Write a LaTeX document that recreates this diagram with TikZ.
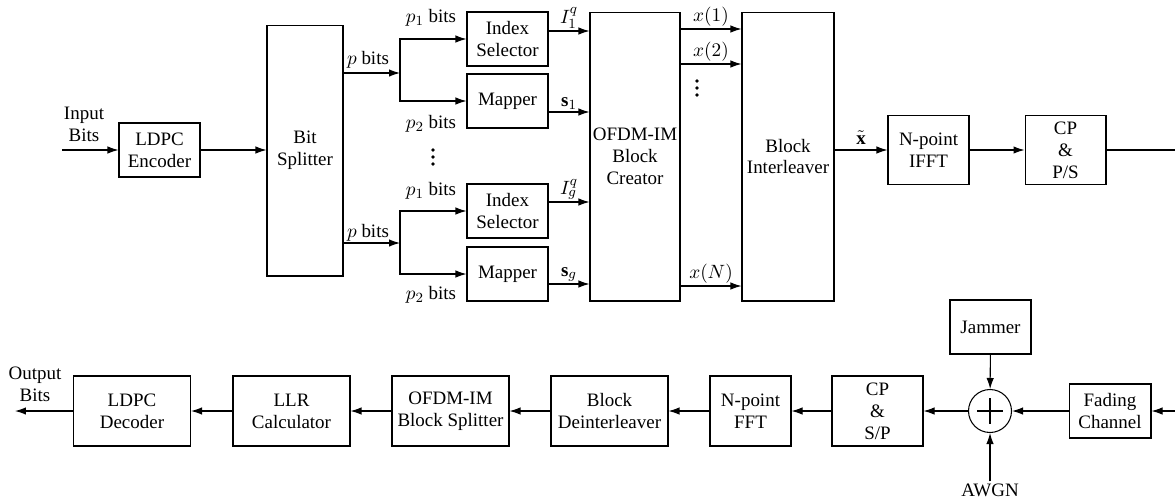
\documentclass[tikz,border=0pt]{standalone}
\usepackage{amsmath,amssymb}
\usepackage{fontspec}
\setmainfont{Liberation Serif}[Ligatures=TeX]
\usepackage{tikz}
\usetikzlibrary{arrows.meta,positioning}

\begin{document}
\begin{tikzpicture}[
  x=0.02cm, y=-0.02cm,
  line width=0.6pt,
  box/.style={draw, align=center, inner sep=0pt, minimum width=1.62cm,
              minimum height=1.08cm, font=\fontsize{10.8}{12.5}\selectfont},
  rbox/.style={box, minimum width=2.34cm, minimum height=1.40cm},
  lbl/.style={inner sep=1pt, align=center, font=\fontsize{10.8}{12.5}\selectfont},
  dot/.style={circle, fill, inner sep=0pt, minimum size=2.2pt},
  arr/.style={-{Latex[length=2.2mm, width=1.5mm]}}
]
\useasboundingbox (0,0) rectangle (1175,501);
% transmitter
\node[lbl] (inbits) at (84,124) {Input\\Bits};
\node[box] (enc) at (159.5,150) {LDPC\\Encoder};
\coordinate (src) at (62,150);
\node[box, minimum width=1.52cm, minimum height=5.02cm] (split) at (305,150.5) {Bit\\Splitter};
\coordinate (br1) at (400,73);
\coordinate (br2) at (400,243);
\node[box] (idx1) at (507.5,39) {Index\\Selector};
\node[box] (map1) at (507.5,101) {Mapper};
\node[box] (idx2) at (507.5,211) {Index\\Selector};
\node[box] (map2) at (507.5,274) {Mapper};
\node[lbl] at (368,60) {$p$ bits};
\node[lbl] at (368,233) {$p$ bits};
\node[lbl] at (431,18) {$p_1$ bits};
\node[lbl] at (431,124) {$p_2$ bits};
\node[lbl] at (431,191) {$p_1$ bits};
\node[lbl] at (431,295) {$p_2$ bits};
\foreach \yy in {150,157,164} \node[dot] at (433,\yy) {};
\node[box, minimum width=1.80cm, minimum height=5.78cm] (ofdm) at (635,156.5) {OFDM-IM\\Block\\Creator};
\node[box, minimum width=1.84cm, minimum height=5.78cm] (intl) at (788,156.5) {Block\\Interleaver};
\foreach \yy in {81,88,95} \node[dot] at (697,\yy) {};
\node[box, minimum height=1.38cm] (ifft) at (928.5,150) {N-point\\IFFT};
\node[box, minimum height=1.38cm] (cpps) at (1065.5,150) {CP\\\&\\P/S};
\coordinate (tx) at (1175,150);

\draw[arr] (src) -- (enc);
\draw[arr] (enc) -- (enc -| split.west);
\draw[arr] (split.east |- br1) -- (br1);
\draw[arr] (split.east |- br2) -- (br2);
\draw[arr] (br1) |- (idx1);
\draw[arr] (br1) |- (map1);
\draw[arr] (br2) |- (idx2);
\draw[arr] (br2) |- (map2);
\draw[arr] (idx1.east |- 0,31) -- node[lbl, above] {$I_1^q$} (ofdm.west |- 0,31);
\draw[arr] (map1.east |- 0,112) -- node[lbl, above] {$\mathbf{s}_1$} (ofdm.west |- 0,112);
\draw[arr] (idx2.east |- 0,202) -- node[lbl, above] {$I_g^q$} (ofdm.west |- 0,202);
\draw[arr] (map2.east |- 0,284) -- node[lbl, above] {$\mathbf{s}_g$} (ofdm.west |- 0,284);
\draw[arr] (ofdm.east |- 0,29) -- node[lbl, above] {$x(1)$} (intl.west |- 0,29);
\draw[arr] (ofdm.east |- 0,64) -- node[lbl, above] {$x(2)$} (intl.west |- 0,64);
\draw[arr] (ofdm.east |- 0,286) -- node[lbl, above] {$x(N)$} (intl.west |- 0,286);
\draw[arr] (intl.east |- ifft) -- node[lbl, above, yshift=2pt] {$\tilde{\mathbf{x}}$} (ifft);
\draw[arr] (ifft) -- (cpps);
\draw (cpps) -- (tx);
% receiver
\coordinate (rx) at (1175,411);
\node[box, minimum width=1.64cm] (fade) at (1110,411) {Fading\\Channel};
\node[draw, circle, inner sep=0pt, minimum size=0.86cm] (sum) at (990,411) {};
\draw (sum.center) ++(-13,0) -- ++(26,0);
\draw (sum.center) ++(0,-13) -- ++(0,26);
\node[box] (jam) at (990.5,327) {Jammer};
\node[lbl] (awgn) at (990,490) {AWGN};
\node[box, minimum width=1.82cm, minimum height=1.40cm] (cpsp) at (877.5,411) {CP\\\&\\S/P};
\node[box, minimum height=1.40cm] (fft) at (750.5,411) {N-point\\FFT};
\node[rbox] (deint) at (609.5,411) {Block\\Deinterleaver};
\node[rbox] (bsplit) at (450.5,411) {OFDM-IM\\Block Splitter};
\node[rbox] (llr) at (291.5,411) {LLR\\Calculator};
\node[rbox] (dec) at (132,411) {LDPC\\Decoder};
\node[lbl] (outbits) at (35,384) {Output\\Bits};
\coordinate (sink) at (15,411);

\draw[arr] (rx) -- (fade);
\draw[arr] (fade) -- (sum);
\draw[arr] (jam) -- (sum);
\draw[arr] (awgn) -- (sum);
\draw[arr] (sum) -- (cpsp);
\draw[arr] (cpsp) -- (fft);
\draw[arr] (fft) -- (deint);
\draw[arr] (deint) -- (bsplit);
\draw[arr] (bsplit) -- (llr);
\draw[arr] (llr) -- (dec);
\draw[arr] (dec) -- (sink);
\end{tikzpicture}
\end{document}
